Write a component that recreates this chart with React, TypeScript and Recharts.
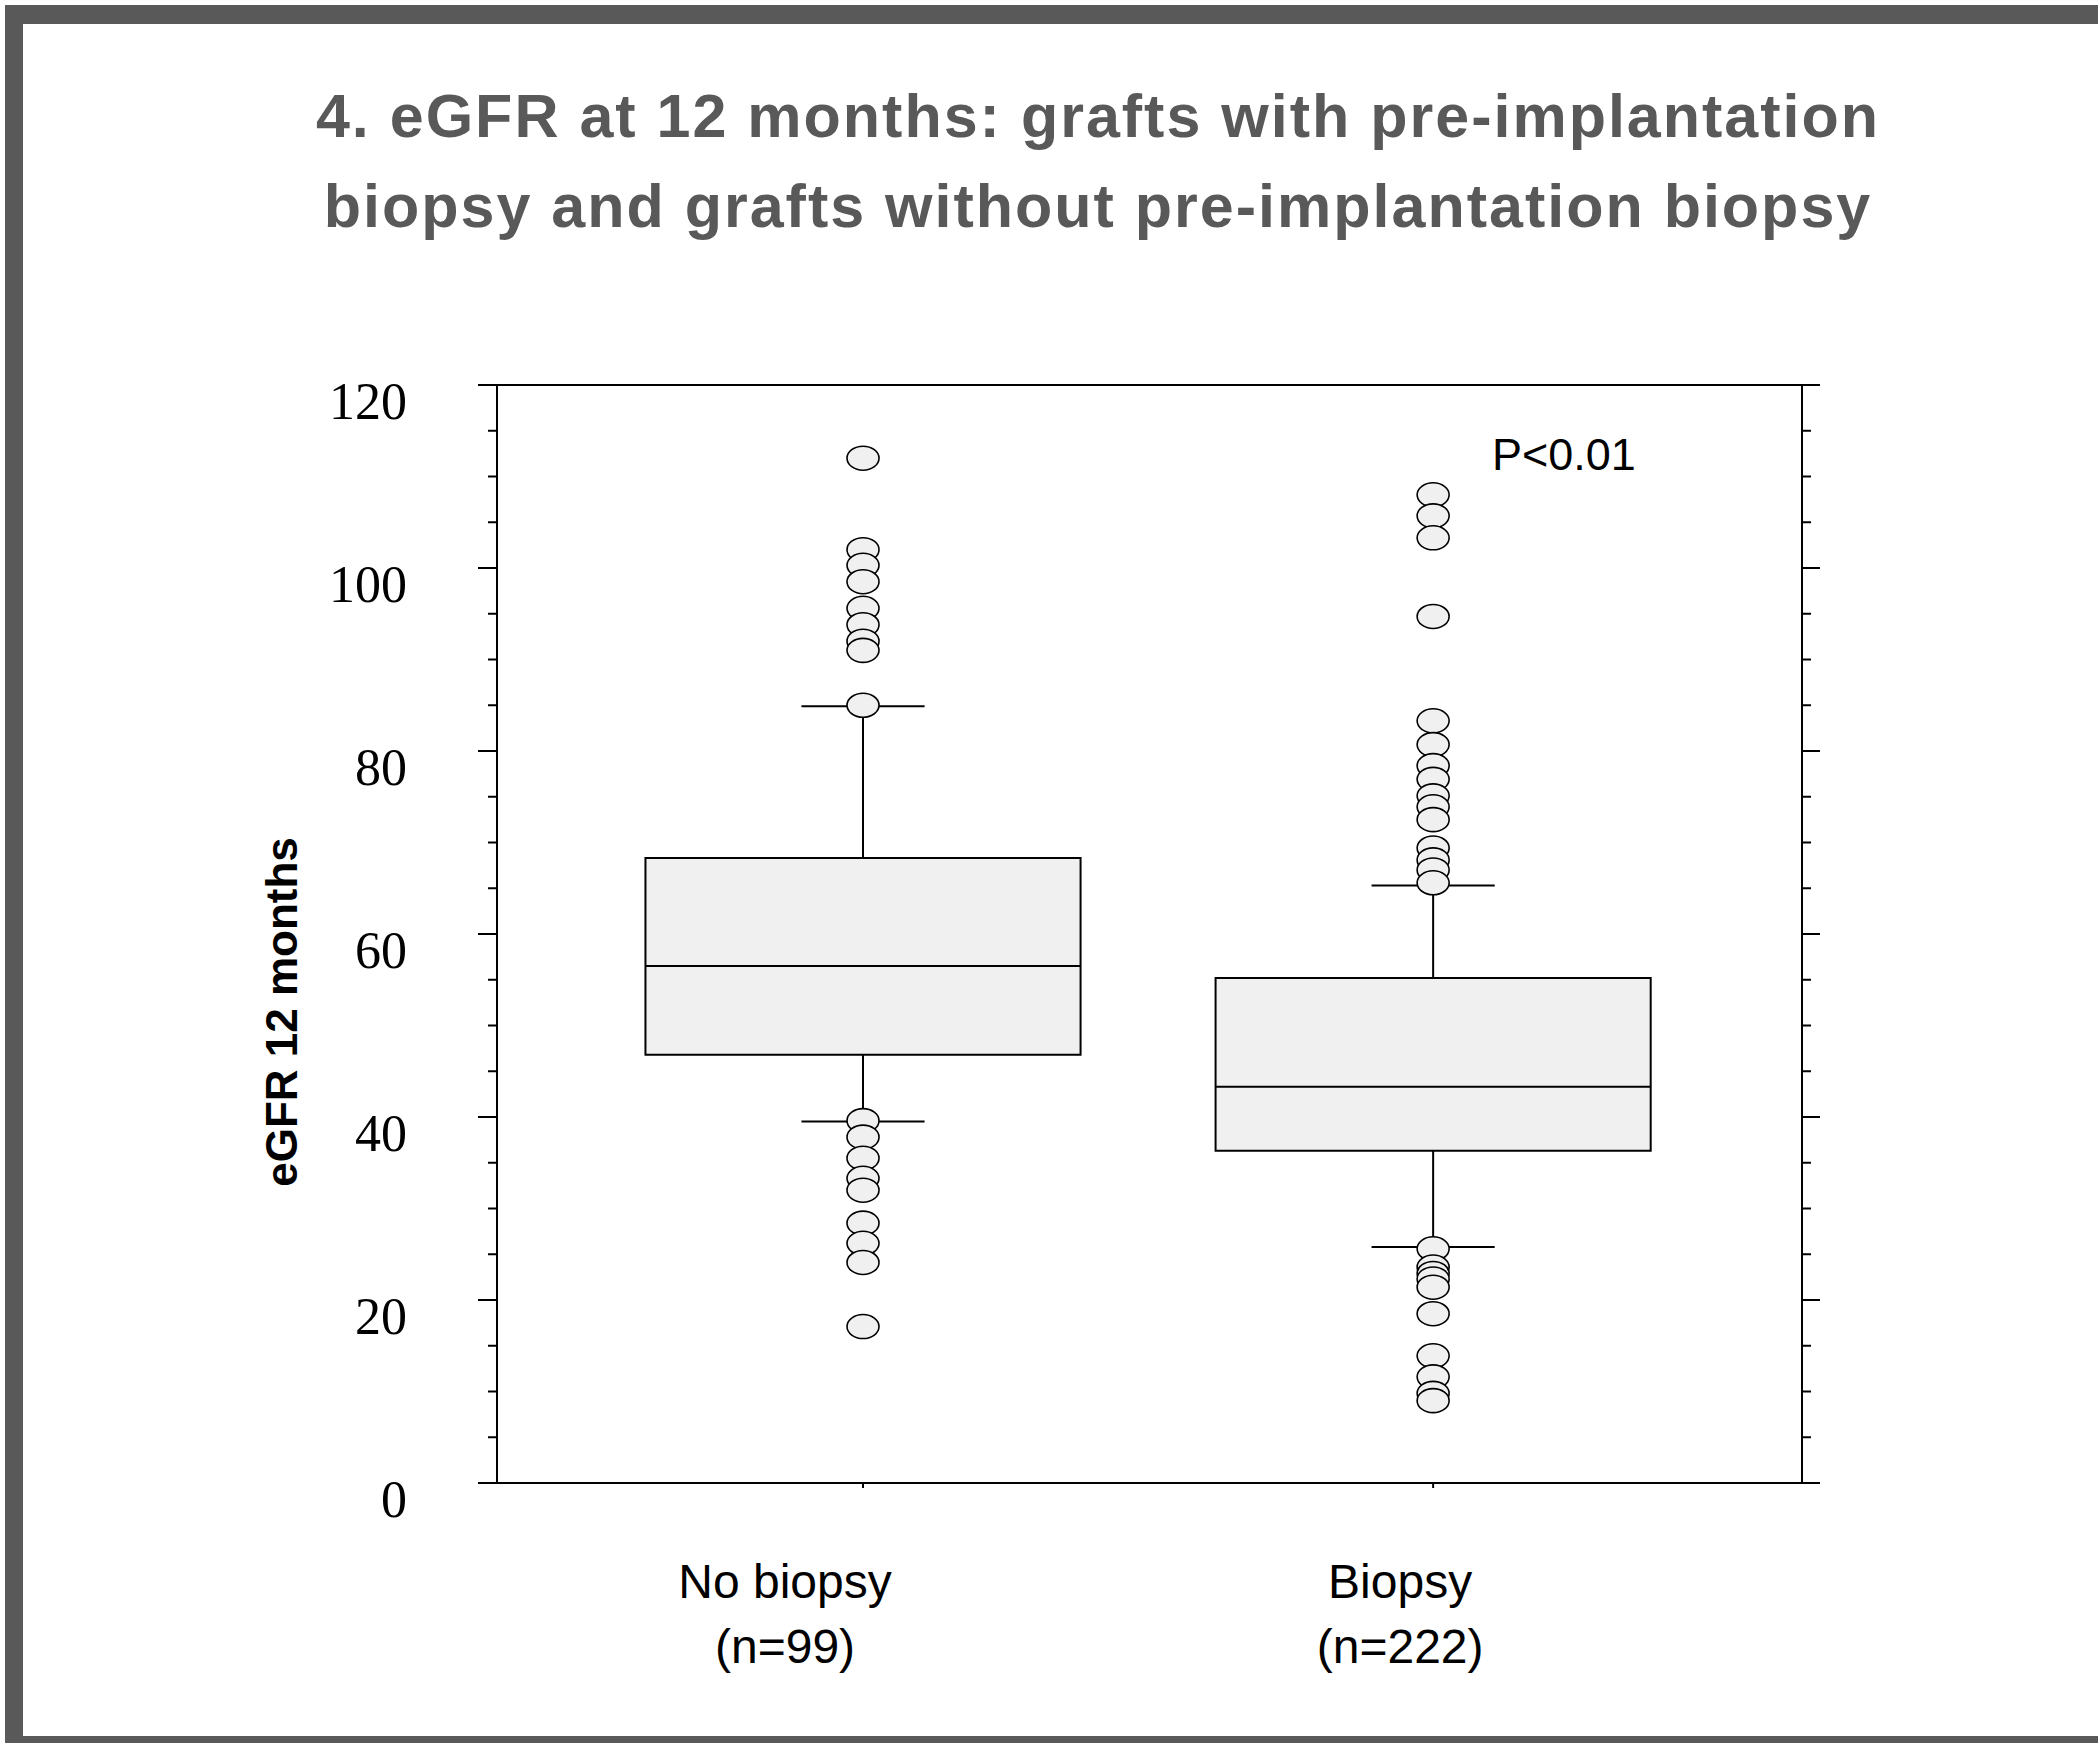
import React from 'react';
import { ComposedChart, XAxis, YAxis, Scatter, ReferenceArea, ReferenceLine } from 'recharts';

// ---- data ----
const categories = ['No biopsy', 'Biopsy'];
const sampleSizes = ['(n=99)', '(n=222)'];
const categoryX = [1, 2];
const q1 = [46.8, 36.3];
const median = [56.5, 43.3];
const q3 = [68.3, 55.2];
const whiskerLow = [39.5, 25.8];
const whiskerHigh = [84.9, 65.3];
const outliersNoBiopsy = [112.0, 102.0, 100.3, 98.5, 95.6, 93.8, 92.0, 91.0, 85.0, 39.6, 37.8, 35.5, 33.3, 32.0, 28.4, 26.2, 24.1, 17.1];
const outliersBiopsy = [108.0, 105.7, 103.3, 94.7, 83.3, 80.7, 78.4, 76.9, 75.1, 73.9, 72.5, 69.4, 68.1, 67.0, 65.6, 25.6, 23.6, 22.9, 22.3, 21.4, 18.5, 13.9, 11.6, 9.8, 9.0];
const yTicks = [0, 5, 10, 15, 20, 25, 30, 35, 40, 45, 50, 55, 60, 65, 70, 75, 80, 85, 90, 95, 100, 105, 110, 115, 120];
const yMajorTicks = [0, 20, 40, 60, 80, 100, 120];
const titleLines = ['4. eGFR at 12 months: grafts with pre-implantation', 'biopsy and grafts without pre-implantation biopsy'];
const yLabel = 'eGFR 12 months';
const pText = 'P<0.01';

// ---- style constants ----
const X_DOMAIN: [number, number] = [0.358, 2.647];
const BOX_HALF = 0.3816;
const CAP_HALF = 0.108;
const LABEL_DX = [-78, -33];
const BOX_FILL = '#f0f0f0';

const outlierData = [
  ...outliersNoBiopsy.map((v) => ({ x: categoryX[0], y: v })),
  ...outliersBiopsy.map((v) => ({ x: categoryX[1], y: v })),
];

const LeftTick = (props: any) => {
  const { x, y, payload } = props;
  const major = yMajorTicks.includes(payload.value);
  return (
    <g>
      <line x1={x} x2={x - (major ? 19 : 9)} y1={y} y2={y} stroke="#000" strokeWidth={2} />
      {major && (
        <text x={x - 90} y={y + 34} textAnchor="end" fontFamily="'Liberation Serif', serif" fontSize={52} fill="#000">
          {payload.value}
        </text>
      )}
    </g>
  );
};

const RightTick = (props: any) => {
  const { x, y, payload } = props;
  const major = yMajorTicks.includes(payload.value);
  return <line x1={x} x2={x + (major ? 18 : 9)} y1={y} y2={y} stroke="#000" strokeWidth={2} />;
};

const XTick = (props: any) => {
  const { x, y, payload } = props;
  const i = categoryX.indexOf(payload.value);
  if (i < 0) return <g />;
  const cx = x + LABEL_DX[i];
  return (
    <g fontFamily="'Liberation Sans', sans-serif" fontSize={48} fill="#000">
      <text x={cx} y={y + 110} textAnchor="middle">{categories[i]}</text>
      <text x={cx} y={y + 175} textAnchor="middle">{sampleSizes[i]}</text>
    </g>
  );
};

const Outlier = (props: any) => {
  const { cx, cy } = props;
  if (cx == null || cy == null) return <g />;
  return <ellipse cx={cx} cy={cy} rx={16} ry={12} fill={BOX_FILL} stroke="#000" strokeWidth={1.6} />;
};

export default function App() {
  return (
    <div style={{ position: 'absolute', left: 0, top: 0, width: 2098, height: 1743, background: '#fff', overflow: 'hidden' }}>
      <div
        style={{
          position: 'absolute', left: 5, top: 5, width: 2093, height: 1738, boxSizing: 'border-box',
          borderTop: '19px solid #595959', borderLeft: '18px solid #595959', borderBottom: '7px solid #595959',
        }}
      />
      {titleLines.map((t, i) => (
        <div
          key={i}
          style={{
            position: 'absolute', left: 1098, top: 86 + i * 90, transform: 'translateX(-50%)', whiteSpace: 'nowrap',
            fontFamily: "'Liberation Sans', sans-serif", fontWeight: 'bold', fontSize: 61, lineHeight: '61px',
            letterSpacing: 2, color: '#595959',
          }}
        >
          {t}
        </div>
      ))}
      <div
        style={{
          position: 'absolute', left: 282, top: 1012, transform: 'translate(-50%, -50%) rotate(-90deg)', whiteSpace: 'nowrap',
          fontFamily: "'Liberation Sans', sans-serif", fontWeight: 'bold', fontSize: 44, lineHeight: '44px', color: '#000',
        }}
      >
        {yLabel}
      </div>
      <div
        style={{
          position: 'absolute', left: 1492, top: 432, whiteSpace: 'nowrap',
          fontFamily: "'Liberation Sans', sans-serif", fontSize: 45, lineHeight: '45px', color: '#000',
        }}
      >
        {pText}
      </div>
      <div style={{ position: 'absolute', left: 0, top: 0 }}>
        <ComposedChart width={2098} height={1743} margin={{ top: 375, right: 276, bottom: 200, left: 397 }}>
          <XAxis
            xAxisId={0}
            type="number"
            dataKey="x"
            domain={X_DOMAIN}
            allowDataOverflow
            ticks={categoryX}
            interval={0}
            height={60}
            tickSize={5}
            tickMargin={0}
            tick={<XTick />}
            axisLine={{ stroke: '#000', strokeWidth: 2 }}
            tickLine={{ stroke: '#000', strokeWidth: 2 }}
          />
          <XAxis
            xAxisId="top"
            orientation="top"
            type="number"
            domain={X_DOMAIN}
            allowDataOverflow
            ticks={categoryX}
            interval={0}
            height={10}
            tickSize={5}
            tick={false}
            axisLine={{ stroke: '#000', strokeWidth: 2 }}
            tickLine={{ stroke: '#000', strokeWidth: 2 }}
          />
          <YAxis
            yAxisId={0}
            type="number"
            dataKey="y"
            domain={[0, 120]}
            allowDataOverflow
            ticks={yTicks}
            interval={0}
            width={100}
            tickSize={0}
            tickMargin={0}
            tickLine={false}
            tick={<LeftTick />}
            axisLine={{ stroke: '#000', strokeWidth: 2 }}
          />
          <YAxis
            yAxisId="right"
            orientation="right"
            type="number"
            domain={[0, 120]}
            allowDataOverflow
            ticks={yTicks}
            interval={0}
            width={20}
            tickSize={0}
            tickMargin={0}
            tickLine={false}
            tick={<RightTick />}
            axisLine={{ stroke: '#000', strokeWidth: 2 }}
          />
          {categoryX.map((cx, i) => (
            <ReferenceLine
              key={`wl${i}`}
              segment={[{ x: cx, y: whiskerLow[i] }, { x: cx, y: q1[i] }]}
              stroke="#000"
              strokeWidth={2}
            />
          ))}
          {categoryX.map((cx, i) => (
            <ReferenceLine
              key={`wh${i}`}
              segment={[{ x: cx, y: q3[i] }, { x: cx, y: whiskerHigh[i] }]}
              stroke="#000"
              strokeWidth={2}
            />
          ))}
          {categoryX.map((cx, i) => (
            <ReferenceLine
              key={`cl${i}`}
              segment={[{ x: cx - CAP_HALF, y: whiskerLow[i] }, { x: cx + CAP_HALF, y: whiskerLow[i] }]}
              stroke="#000"
              strokeWidth={2}
            />
          ))}
          {categoryX.map((cx, i) => (
            <ReferenceLine
              key={`ch${i}`}
              segment={[{ x: cx - CAP_HALF, y: whiskerHigh[i] }, { x: cx + CAP_HALF, y: whiskerHigh[i] }]}
              stroke="#000"
              strokeWidth={2}
            />
          ))}
          {categoryX.map((cx, i) => (
            <ReferenceArea
              key={`box${i}`}
              x1={cx - BOX_HALF}
              x2={cx + BOX_HALF}
              y1={q1[i]}
              y2={q3[i]}
              fill={BOX_FILL}
              fillOpacity={1}
              stroke="#000"
              strokeWidth={2}
            />
          ))}
          {categoryX.map((cx, i) => (
            <ReferenceLine
              key={`med${i}`}
              segment={[{ x: cx - BOX_HALF, y: median[i] }, { x: cx + BOX_HALF, y: median[i] }]}
              stroke="#000"
              strokeWidth={2}
            />
          ))}
          <Scatter data={outlierData} dataKey="y" shape={<Outlier />} isAnimationActive={false} />
        </ComposedChart>
      </div>
    </div>
  );
}
